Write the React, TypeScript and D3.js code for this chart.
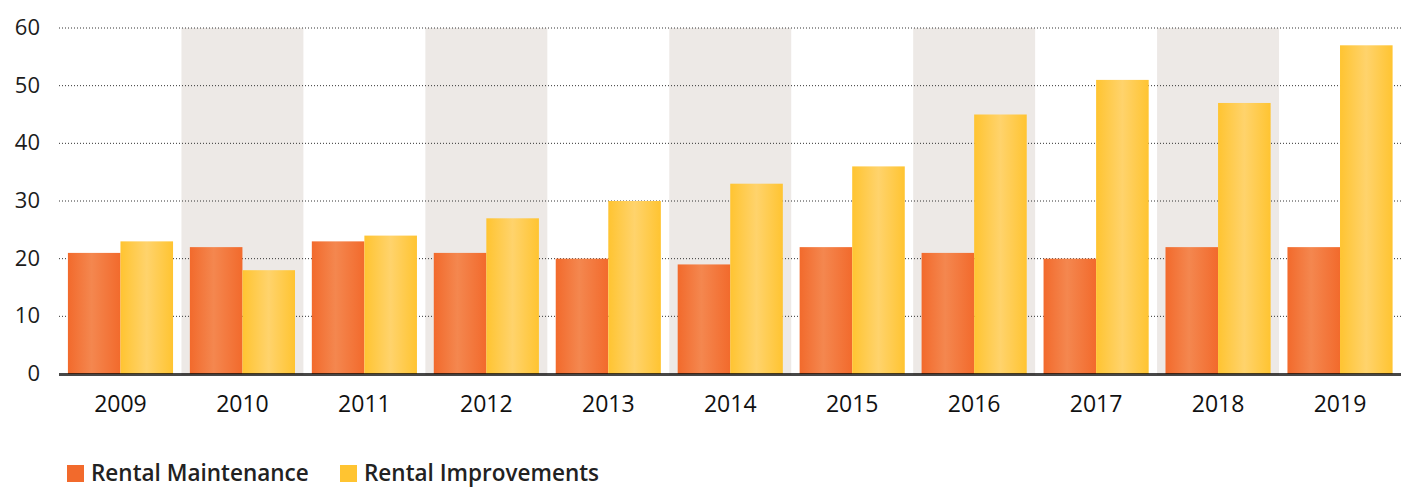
import React from "react";
import * as d3 from "d3";

const years = ["2009", "2010", "2011", "2012", "2013", "2014", "2015", "2016", "2017", "2018", "2019"];
const maintenance = [21, 22, 23, 21, 20, 19, 22, 21, 20, 22, 22];
const improvements = [23, 18, 24, 27, 30, 33, 36, 45, 51, 47, 57];
const seriesNames = ["Rental Maintenance", "Rental Improvements"];
const yTicks = [0, 10, 20, 30, 40, 50, 60];

const W = 1401;
const H = 487;
const FONT = "'Open Sans', Lato, sans-serif";

export default function App() {
  const x = d3.scaleBand<string>().domain(years).range([59.5, 1401]).padding(0);
  const x1 = d3.scaleBand<string>().domain(seriesNames).range([0, x.bandwidth()]).paddingInner(0).paddingOuter(0.16);
  const y = d3.scaleLinear().domain([0, 60]).range([374, 28]);
  const series = [
    { name: seriesNames[0], values: maintenance, grad: "gOrange", swatch: "#F26A2C" },
    { name: seriesNames[1], values: improvements, grad: "gYellow", swatch: "#FFC431" },
  ];
  return (
    <svg width={W} height={H} style={{ position: "absolute", left: 0, top: 0, background: "#fff" }}>
      <defs>
        <linearGradient id="gOrange" x1="0" x2="1" y1="0" y2="0">
          <stop offset="0%" stopColor="#F26A2C" />
          <stop offset="45%" stopColor="#F4874F" />
          <stop offset="100%" stopColor="#F26A2C" />
        </linearGradient>
        <linearGradient id="gYellow" x1="0" x2="1" y1="0" y2="0">
          <stop offset="0%" stopColor="#FFC431" />
          <stop offset="50%" stopColor="#FFD36C" />
          <stop offset="100%" stopColor="#FFC431" />
        </linearGradient>
      </defs>
      {years.map((yr, i) =>
        i % 2 === 1 ? (
          <rect key={"band" + yr} x={x(yr)} y={y(60)} width={x.bandwidth()} height={y(0) - y(60) + 1} fill="#EDE9E6" />
        ) : null
      )}
      {yTicks.filter((t) => t > 0).map((t) => (
        <line key={"g" + t} x1={59} x2={1401} y1={y(t)} y2={y(t)} stroke="#333" strokeWidth={1} strokeDasharray="1 2" />
      ))}
      {series.map((s) =>
        years.map((yr, i) => (
          <rect
            key={s.name + yr}
            x={(x(yr) as number) + (x1(s.name) as number)}
            y={y(s.values[i])}
            width={x1.bandwidth()}
            height={y(0) - y(s.values[i])}
            fill={`url(#${s.grad})`}
          />
        ))
      )}
      <line x1={59} x2={1401} y1={y(0) + 0.5} y2={y(0) + 0.5} stroke="#000" strokeOpacity={0.72} strokeWidth={3} />
      {yTicks.map((t) => (
        <text key={"yt" + t} x={40} y={y(t) + 1} textAnchor="end" dominantBaseline="middle" fontFamily={FONT} fontSize={22} fill="#1c1c1c">
          {t}
        </text>
      ))}
      {years.map((yr) => (
        <text key={"xt" + yr} x={(x(yr) as number) + x.bandwidth() / 2} y={412} textAnchor="middle" fontFamily={FONT} fontSize={23} fill="#111">
          {yr}
        </text>
      ))}
      <g>
        <rect x={67} y={465} width={17} height={17} fill={series[0].swatch} />
        <text x={91} y={481} fontFamily={FONT} fontSize={22.5} fontWeight={600} fill="#222">{seriesNames[0]}</text>
        <rect x={340} y={465} width={17} height={17} fill={series[1].swatch} />
        <text x={364} y={481} fontFamily={FONT} fontSize={22.5} fontWeight={600} fill="#222">{seriesNames[1]}</text>
      </g>
    </svg>
  );
}
